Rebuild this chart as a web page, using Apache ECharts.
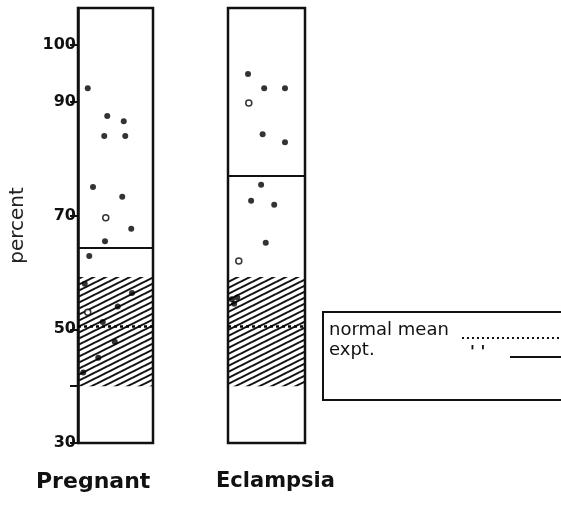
<!DOCTYPE html>
<html lang="en">
<head>
    <meta charset="UTF-8">
    <title>Pregnant vs Eclampsia</title>
    <script src="https://cdn.jsdelivr.net/npm/echarts@6/dist/echarts.min.js"></script>
    <style>
        html, body { margin: 0; padding: 0; background: #fff; }
        #main { width: 561px; height: 514px; }
    </style>
</head>
<body>
<div id="main"></div>
<script>
    // data: [horizontal scatter slot 0-10, percent]
    var categories = ['Pregnant', 'Eclampsia'];
    var pregnantFilled = [[1.3, 92.4], [3.9, 87.5], [6.1, 86.6], [3.5, 84.0], [6.3, 84.0], [2.0, 75.0],
        [5.9, 73.3], [7.1, 67.7], [3.6, 65.5], [1.5, 62.9], [7.2, 56.4], [5.3, 54.0], [3.3, 51.3],
        [4.9, 47.8], [2.7, 45.0], [0.9, 58.0], [0.7, 42.4]];
    var pregnantOpen = [[3.7, 69.6], [1.3, 53.0]];
    var eclampsiaFilled = [[2.6, 94.9], [4.7, 92.4], [7.4, 92.4], [4.5, 84.3], [7.4, 82.9], [4.3, 75.4],
        [3.0, 72.6], [6.0, 71.9], [4.9, 65.2], [0.5, 55.3], [1.2, 55.6], [0.8, 54.5]];
    var eclampsiaOpen = [[2.7, 89.8], [1.4, 62.0]];
    var exptMean = [64.3, 77.0];
    var normalMean = 50.5;
    var normalRange = [40, 59.2];
    var tickValues = [30, 40, 50, 70, 90, 100];
    var tickLabels = [30, 50, 70, 90, 100];

    // hatch pattern for the normal range
    var hatch = document.createElement('canvas');
    hatch.width = 12;
    hatch.height = 6;
    var ctx = hatch.getContext('2d');
    ctx.strokeStyle = '#111';
    ctx.lineWidth = 2;
    for (var k = -1; k <= 1; k++) {
        ctx.beginPath();
        ctx.moveTo(-12, 12 + k * 6);
        ctx.lineTo(24, -6 + k * 6);
        ctx.stroke();
    }

    var ink = '#111';
    var chart = echarts.init(document.getElementById('main'));

    function panelSeries(idx, filled, open) {
        return [
            {
                type: 'scatter',
                xAxisIndex: idx,
                yAxisIndex: idx,
                data: filled,
                symbolSize: 6,
                itemStyle: { color: '#000' },
                z: 5,
                markArea: {
                    silent: true,
                    itemStyle: { color: { image: hatch, repeat: 'repeat' } },
                    data: [[{ yAxis: normalRange[0] }, { yAxis: normalRange[1] }]]
                },
                markLine: {
                    silent: true,
                    symbol: 'none',
                    label: { show: false },
                    data: [
                        { yAxis: exptMean[idx], lineStyle: { type: 'solid', width: 2, color: ink } },
                        { yAxis: normalMean, lineStyle: { type: [3, 3], width: 2.5, color: '#000' } }
                    ]
                }
            },
            {
                type: 'scatter',
                xAxisIndex: idx,
                yAxisIndex: idx,
                data: open,
                symbolSize: 6,
                itemStyle: { color: '#fff', borderColor: '#000', borderWidth: 1.5 },
                z: 6
            }
        ];
    }

    var option = {
        backgroundColor: '#fff',
        animation: false,
        grid: [
            { left: 78, width: 75, top: 8, bottom: 71, show: true, borderColor: ink, borderWidth: 2.5 },
            { left: 228, width: 77, top: 8, bottom: 71, show: true, borderColor: ink, borderWidth: 2.5 }
        ],
        xAxis: [
            { gridIndex: 0, type: 'value', min: 0, max: 10, show: false },
            { gridIndex: 1, type: 'value', min: 0, max: 10, show: false }
        ],
        yAxis: [
            {
                gridIndex: 0,
                type: 'value',
                min: 30,
                max: 106.5,
                name: 'percent',
                nameLocation: 'middle',
                nameRotate: 90,
                nameGap: 50,
                nameTextStyle: { fontFamily: 'DejaVu Sans', fontSize: 20, color: '#222' },
                splitLine: { show: false },
                axisLine: { show: true, lineStyle: { color: ink, width: 2.5 } },
                axisTick: { show: true, length: 8, customValues: tickValues, lineStyle: { color: ink, width: 2 } },
                axisLabel: {
                    customValues: tickLabels,
                    margin: 2,
                    fontFamily: 'DejaVu Sans',
                    fontWeight: 'bold',
                    fontSize: 16,
                    color: ink
                }
            },
            { gridIndex: 1, type: 'value', min: 30, max: 106.5, show: false }
        ],
        series: panelSeries(0, pregnantFilled, pregnantOpen).concat(panelSeries(1, eclampsiaFilled, eclampsiaOpen)),
        graphic: [
            {
                type: 'text', left: 36, top: 471,
                style: { text: categories[0], font: 'bold 22px "DejaVu Sans"', fill: ink }
            },
            {
                type: 'text', left: 216, top: 471,
                style: { text: categories[1], font: 'bold 21px "DejaVu Sans"', fill: ink }
            },
            {
                type: 'rect',
                shape: { x: 323, y: 312, width: 260, height: 88 },
                style: { fill: '#fff', stroke: ink, lineWidth: 2 }
            },
            {
                type: 'text', x: 329, y: 321,
                style: { text: 'normal mean', font: '18px "DejaVu Sans"', fill: ink }
            },
            {
                type: 'line',
                shape: { x1: 462, y1: 338, x2: 561, y2: 338 },
                style: { stroke: ink, lineWidth: 2, lineDash: [2, 3] }
            },
            {
                type: 'text', x: 329, y: 341,
                style: { text: 'expt.', font: '18px "DejaVu Sans"', fill: ink }
            },
            {
                type: 'text', x: 470, y: 345,
                style: { text: '\' \'', font: 'bold 16px "DejaVu Sans"', fill: ink }
            },
            {
                type: 'line',
                shape: { x1: 510, y1: 357, x2: 561, y2: 357 },
                style: { stroke: ink, lineWidth: 2 }
            }
        ]
    };
    chart.setOption(option);
</script>
</body>
</html>
